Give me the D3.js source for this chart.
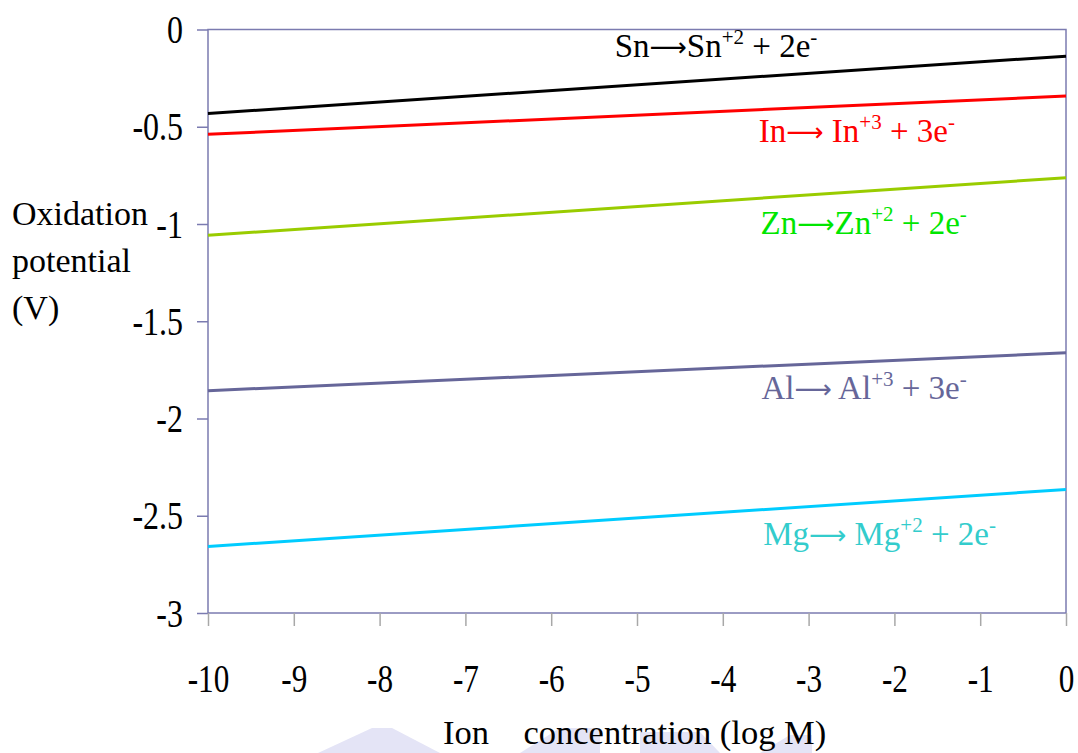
<!DOCTYPE html>
<html>
<head>
    <meta charset="utf-8">
    <title>Oxidation potential vs ion concentration</title>
    <script src="https://cdn.jsdelivr.net/npm/d3@7/dist/d3.min.js"></script>
    <style>
        body { margin: 0; background: #fff; }
        svg { display: block; }
        svg text { font-family: "Liberation Serif", "DejaVu Serif", serif; }
        .arrow { font-family: "DejaVu Sans", sans-serif !important; }
    </style>
</head>
<body>
    <div id="chart"></div>

    <script>
        // data (Nernst lines, two end points each)
        const logM = [-10, 0];
        const xTicks = [-10, -9, -8, -7, -6, -5, -4, -3, -2, -1, 0];
        const yTicks = [0, -0.5, -1, -1.5, -2, -2.5, -3];

        const names = ["Sn", "In", "Zn", "Al", "Mg"];
        const snVals = [-0.432, -0.137];
        const inVals = [-0.539, -0.342];
        const znVals = [-1.058, -0.762];
        const alVals = [-1.857, -1.662];
        const mgVals = [-2.658, -2.365];

        // label text: [before arrow, after arrow, sup, middle, sup]
        const labelParts = [
            ["Sn", "Sn", "+2", " + 2e", "-"],
            ["In", " In", "+3", " + 3e", "-"],
            ["Zn", "Zn", "+2", " + 2e", "-"],
            ["Al", " Al", "+3", " + 3e", "-"],
            ["Mg", " Mg", "+2", " + 2e", "-"]
        ];
        const labelAnchor = [[-5.26, -0.14], [-3.58, -0.58], [-3.56, -1.05], [-3.55, -1.9], [-3.53, -2.65]];

        const lineColors = ["#000000", "#ff0000", "#99cc00", "#666699", "#00ccff"];
        const labelColors = ["#000000", "#ff0000", "#00e600", "#666699", "#33cccc"];

        const series = [snVals, inVals, znVals, alVals, mgVals].map((v, i) => ({
            name: names[i],
            points: logM.map((x, j) => ({ x: x, y: v[j] }))
        }));

        const W = 1078, H = 753;
        const m = { left: 208, right: 12, top: 29.5, bottom: 140 };

        const svg = d3.select("#chart").append("svg")
            .attr("width", W).attr("height", H);

        // faint watermark at the bottom
        const wm = svg.append("g").attr("fill", "#e4e4f6");
        wm.append("path").attr("d", "M318,753 L372,728 L392,728 L440,753 Z");
        wm.append("path").attr("d", "M520,753 L560,728 L600,728 L600,753 Z");
        wm.append("path").attr("d", "M640,753 L640,732 L700,732 L720,753 Z");
        wm.append("path").attr("d", "M760,753 L790,735 L812,735 L812,753 Z");

        const x = d3.scaleLinear().domain([-10, 0]).range([m.left, W - m.right]);
        const y = d3.scaleLinear().domain([0, -3]).range([m.top, H - m.bottom]);

        // frame
        svg.append("rect")
            .attr("x", x(-10)).attr("y", y(0))
            .attr("width", x(0) - x(-10)).attr("height", y(-3) - y(0))
            .attr("fill", "none").attr("stroke", "#7b7bb0").attr("stroke-width", 1.5);

        const fmt = d => String(d);

        // y axis
        const yAxis = svg.append("g")
            .attr("transform", `translate(${x(-10)},0)`)
            .call(d3.axisLeft(y).tickValues(yTicks).tickSize(11).tickFormat(fmt))
            .attr("font-family", null);
        yAxis.select(".domain").remove();
        yAxis.selectAll(".tick line").attr("stroke", "#7b7bb0").attr("stroke-width", 1.5);
        yAxis.selectAll(".tick text")
            .attr("font-size", 39).attr("fill", "#000")
            .attr("x", 0).attr("dy", null)
            .attr("text-anchor", "end")
            .attr("transform", "translate(-25,13) scale(0.82,1)");

        // x axis
        const xAxis = svg.append("g")
            .attr("transform", `translate(0,${y(-3)})`)
            .call(d3.axisBottom(x).tickValues(xTicks).tickSize(13).tickFormat(fmt))
            .attr("font-family", null);
        xAxis.select(".domain").remove();
        xAxis.selectAll(".tick line").attr("stroke", "#a8a8a8").attr("stroke-width", 1.5);
        xAxis.selectAll(".tick text")
            .attr("font-size", 39).attr("fill", "#000")
            .attr("y", 0).attr("dy", null)
            .attr("transform", "translate(0,79) scale(0.8,1)");

        // lines
        const line = d3.line().x(d => x(d.x)).y(d => y(d.y));
        svg.append("g").selectAll("path")
            .data(series)
            .enter().append("path")
            .attr("d", d => line(d.points))
            .attr("fill", "none")
            .attr("stroke", (d, i) => lineColors[i])
            .attr("stroke-width", 3);

        // reaction labels
        const labels = svg.append("g").attr("font-size", 33);
        labelParts.forEach((p, i) => {
            const t = labels.append("text")
                .attr("x", x(labelAnchor[i][0]))
                .attr("y", y(labelAnchor[i][1]))
                .attr("fill", labelColors[i]);
            t.append("tspan").text(p[0]);
            t.append("tspan").attr("class", "arrow").attr("font-size", 26).attr("dy", -1).text("\u27F6");
            t.append("tspan").attr("dy", 1).text(p[1]);
            t.append("tspan").attr("font-size", 21).attr("dy", -13).text(p[2]);
            t.append("tspan").attr("dy", 13).text(p[3]);
            t.append("tspan").attr("font-size", 21).attr("dy", -13).text(p[4]);
        });

        // axis titles
        const yt = svg.append("text").attr("font-size", 34).attr("fill", "#000");
        ["Oxidation", "potential", "(V)"].forEach((s, i) => {
            yt.append("tspan").attr("x", 12).attr("y", 225 + i * 47).text(s);
        });

        svg.append("text")
            .attr("x", 443).attr("y", 744)
            .attr("font-size", 34.5).attr("fill", "#000")
            .attr("xml:space", "preserve")
            .text("Ion    concentration (log M)");
    </script>
</body>
</html>
